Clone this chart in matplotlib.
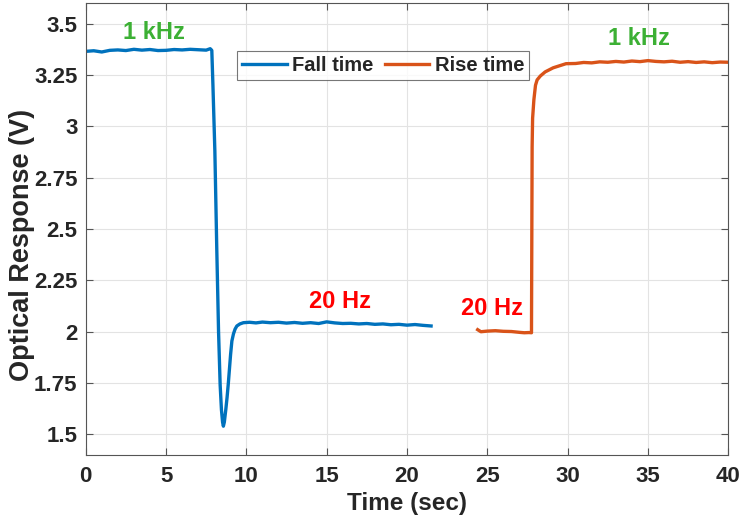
import matplotlib
matplotlib.use("Agg")
import matplotlib.pyplot as plt

# Fall time trace (1 kHz -> 20 Hz)
fall_t = [0.0, 0.5, 1.0, 1.5, 2.0, 2.5, 3.0, 3.5, 4.0, 4.5, 5.0, 5.5, 6.0, 6.5,
          7.0, 7.5, 7.75, 7.85, 7.92, 8.04, 8.16, 8.27, 8.37, 8.45, 8.52, 8.57,
          8.63, 8.72, 8.8, 8.88, 8.95, 9.02, 9.1, 9.2, 9.3, 9.41, 9.6, 9.82,
          10.2, 10.6, 11.0, 11.5, 12.0, 12.5, 13.0, 13.5, 14.0, 14.5, 15.0,
          15.5, 16.0, 16.5, 17.0, 17.5, 18.0, 18.5, 19.0, 19.5, 20.0, 20.5,
          21.0, 21.5]
fall_v = [3.365, 3.368, 3.362, 3.370, 3.372, 3.369, 3.375, 3.371, 3.374, 3.369,
          3.370, 3.374, 3.372, 3.375, 3.373, 3.371, 3.378, 3.370, 3.200, 2.880,
          2.400, 2.000, 1.740, 1.620, 1.560, 1.540, 1.560, 1.620, 1.680, 1.750,
          1.820, 1.890, 1.955, 1.990, 2.013, 2.028, 2.038, 2.044, 2.046, 2.043,
          2.047, 2.044, 2.046, 2.042, 2.045, 2.041, 2.044, 2.040, 2.048, 2.043,
          2.040, 2.041, 2.038, 2.040, 2.036, 2.038, 2.034, 2.036, 2.032, 2.035,
          2.031, 2.028]

# Rise time trace (20 Hz -> 1 kHz)
rise_t = [24.4, 24.6, 25.0, 25.5, 26.0, 26.5, 27.0, 27.3, 27.6, 27.75, 27.79,
          27.82, 27.9, 28.0, 28.1, 28.3, 28.6, 29.1, 29.9, 30.5, 31.0, 31.5,
          32.0, 32.5, 33.0, 33.5, 34.0, 34.5, 35.0, 35.5, 36.0, 36.5, 37.0,
          37.5, 38.0, 38.5, 39.0, 39.5, 40.0]
rise_v = [2.010, 2.000, 2.003, 2.005, 2.002, 2.001, 1.997, 1.995, 1.996, 1.995,
          2.900, 3.040, 3.130, 3.200, 3.226, 3.245, 3.265, 3.285, 3.305, 3.306,
          3.311, 3.309, 3.314, 3.312, 3.316, 3.313, 3.318, 3.315, 3.320, 3.316,
          3.314, 3.317, 3.312, 3.315, 3.311, 3.314, 3.310, 3.313, 3.312]

x_ticks = [0, 5, 10, 15, 20, 25, 30, 35, 40]
y_ticks = [1.5, 1.75, 2.0, 2.25, 2.5, 2.75, 3.0, 3.25, 3.5]
y_tick_labels = ["1.5", "1.75", "2", "2.25", "2.5", "2.75", "3", "3.25", "3.5"]

font = ["Liberation Sans", "DejaVu Sans"]
dark = "#262626"

fig = plt.figure(figsize=(7.42, 5.17), dpi=100)
ax = fig.add_axes([0.1155, 0.12, 0.866, 0.874])

ax.plot(fall_t, fall_v, color="#0072BD", linewidth=2.4, label="Fall time")
ax.plot(rise_t, rise_v, color="#D95319", linewidth=2.4, label="Rise time")

ax.set_xlim(0, 40)
ax.set_ylim(1.4, 3.6)
ax.set_xticks(x_ticks)
ax.set_xticklabels([str(t) for t in x_ticks])
ax.set_yticks(y_ticks)
ax.set_yticklabels(y_tick_labels)

# MATLAB-like box with inward ticks on all sides
ax.tick_params(direction="in", top=True, right=True, length=5, width=0.8,
               color="#555555")
ax.tick_params(axis="x", pad=8)
ax.tick_params(axis="y", pad=6)
for lbl in ax.get_xticklabels() + ax.get_yticklabels():
    lbl.set_family(font)
    lbl.set_fontweight("bold")
    lbl.set_fontsize(16)
    lbl.set_color(dark)
for sp in ax.spines.values():
    sp.set_color("#555555")
    sp.set_linewidth(0.8)

ax.grid(True, color="#e3e3e3", linewidth=0.8)
ax.set_axisbelow(True)

ax.set_xlabel("Time (sec)", family=font, fontweight="bold", fontsize=17.5,
              color=dark)
ax.set_ylabel("Optical Response (V)", family=font, fontweight="bold",
              fontsize=19.5, color=dark)
ax.yaxis.set_label_coords(-0.079, 0.465)
ax.xaxis.set_label_coords(0.5, -0.083)
ax.xaxis.label.set_va("top")

# Frequency annotations
ax.text(4.25, 3.455, "1 kHz", color="#3CB034", fontsize=17, fontweight="bold",
        family=font, ha="center", va="center")
ax.text(34.45, 3.43, "1 kHz", color="#3CB034", fontsize=17, fontweight="bold",
        family=font, ha="center", va="center")
ax.text(15.8, 2.145, "20 Hz", color="#FF0000", fontsize=17, fontweight="bold",
        family=font, ha="center", va="center")
ax.text(25.3, 2.114, "20 Hz", color="#FF0000", fontsize=17, fontweight="bold",
        family=font, ha="center", va="center")

leg = ax.legend(loc="center", bbox_to_anchor=(0.463, 0.862), ncol=2,
                prop={"family": font, "weight": "bold", "size": 14.5},
                frameon=True, fancybox=False, edgecolor="#555555",
                handlelength=2.2, columnspacing=0.6, handletextpad=0.25,
                borderpad=0.25, borderaxespad=0)
leg.get_frame().set_linewidth(0.8)
for t in leg.get_texts():
    t.set_color(dark)

fig.savefig("out.png", dpi=100)
